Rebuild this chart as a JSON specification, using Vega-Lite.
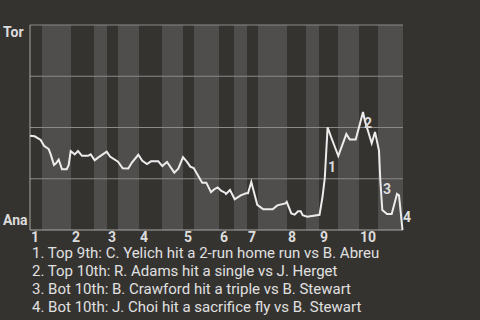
{
  "$schema": "https://vega.github.io/schema/vega-lite/v6.json",
  "width": 373,
  "height": 205,
  "autosize": {"type": "none"},
  "padding": {"left": 30, "top": 25, "right": 77, "bottom": 90},
  "background": "#353330",
  "config": {"view": {"stroke": null}, "font": "Roboto"},
  "title": {
    "text": [
      "1. Top 9th: C. Yelich hit a 2-run home run vs B. Abreu",
      "2. Top 10th: R. Adams hit a single vs J. Herget",
      "3. Bot 10th: B. Crawford hit a triple vs B. Stewart",
      "4. Bot 10th: J. Choi hit a sacrifice fly vs B. Stewart"
    ],
    "orient": "bottom",
    "anchor": "start",
    "frame": "group",
    "font": "Roboto",
    "fontSize": 15,
    "fontWeight": "normal",
    "color": "#e0e0e0",
    "lineHeight": 18,
    "baseline": "top",
    "offset": 1,
    "dx": 2
  },
  "datasets": {
    "bands": [
      {"s": 12, "e": 41}, {"s": 64, "e": 77}, {"s": 88, "e": 109}, {"s": 132, "e": 153},
      {"s": 164, "e": 189}, {"s": 204, "e": 217}, {"s": 228, "e": 257}, {"s": 276, "e": 289},
      {"s": 308, "e": 329}, {"s": 348, "e": 373}
    ],
    "grid": [{"g": 0.25}, {"g": 0.5}, {"g": 0.75}, {"g": 1}],
    "innings": [
      {"inning": "1", "start": 0}, {"inning": "2", "start": 41}, {"inning": "3", "start": 77},
      {"inning": "4", "start": 109}, {"inning": "5", "start": 153}, {"inning": "6", "start": 189},
      {"inning": "7", "start": 217}, {"inning": "8", "start": 257}, {"inning": "9", "start": 289},
      {"inning": "10", "start": 329}
    ],
    "wp": [
      {"play": 0, "p": 0.46}, {"play": 4.7, "p": 0.457}, {"play": 10.7, "p": 0.439},
      {"play": 14, "p": 0.411}, {"play": 18.7, "p": 0.395}, {"play": 20.7, "p": 0.369},
      {"play": 24, "p": 0.317}, {"play": 26, "p": 0.325}, {"play": 28.7, "p": 0.343},
      {"play": 32, "p": 0.296}, {"play": 36.7, "p": 0.296}, {"play": 38.7, "p": 0.317},
      {"play": 40.7, "p": 0.385}, {"play": 44.7, "p": 0.369}, {"play": 48, "p": 0.385},
      {"play": 52, "p": 0.362}, {"play": 58, "p": 0.362}, {"play": 60.7, "p": 0.369},
      {"play": 64.7, "p": 0.34}, {"play": 68, "p": 0.353}, {"play": 76.7, "p": 0.382},
      {"play": 80, "p": 0.358}, {"play": 88, "p": 0.333}, {"play": 92.7, "p": 0.301},
      {"play": 98.3, "p": 0.3}, {"play": 101.7, "p": 0.328}, {"play": 108.3, "p": 0.367},
      {"play": 112.3, "p": 0.338}, {"play": 117, "p": 0.322}, {"play": 121, "p": 0.335},
      {"play": 128.3, "p": 0.335}, {"play": 132.3, "p": 0.312}, {"play": 137, "p": 0.332},
      {"play": 144.3, "p": 0.28}, {"play": 148.3, "p": 0.299}, {"play": 153, "p": 0.355},
      {"play": 157, "p": 0.332}, {"play": 160.3, "p": 0.309}, {"play": 163.7, "p": 0.302},
      {"play": 171, "p": 0.24}, {"play": 172.3, "p": 0.231}, {"play": 176.3, "p": 0.231},
      {"play": 181, "p": 0.185}, {"play": 184.3, "p": 0.199}, {"play": 187.7, "p": 0.208},
      {"play": 191, "p": 0.192}, {"play": 195, "p": 0.182}, {"play": 196, "p": 0.176},
      {"play": 200, "p": 0.195}, {"play": 204.7, "p": 0.15}, {"play": 210.7, "p": 0.169},
      {"play": 216, "p": 0.179}, {"play": 218, "p": 0.179}, {"play": 221.3, "p": 0.234},
      {"play": 227.3, "p": 0.123}, {"play": 233.3, "p": 0.101}, {"play": 242.7, "p": 0.101},
      {"play": 247.3, "p": 0.12}, {"play": 255.3, "p": 0.13}, {"play": 256.7, "p": 0.137},
      {"play": 261.3, "p": 0.081}, {"play": 264.7, "p": 0.075}, {"play": 268, "p": 0.091},
      {"play": 270.7, "p": 0.091}, {"play": 272.7, "p": 0.072}, {"play": 277.3, "p": 0.065},
      {"play": 289.5, "p": 0.074}, {"play": 292.5, "p": 0.161}, {"play": 294.8, "p": 0.254},
      {"play": 297.6, "p": 0.501}, {"play": 301, "p": 0.455}, {"play": 308.3, "p": 0.361},
      {"play": 316.3, "p": 0.468}, {"play": 319.7, "p": 0.442}, {"play": 325.7, "p": 0.442},
      {"play": 329.7, "p": 0.514}, {"play": 333, "p": 0.576}, {"play": 335, "p": 0.53},
      {"play": 338.3, "p": 0.478}, {"play": 341.7, "p": 0.423}, {"play": 345, "p": 0.478},
      {"play": 349, "p": 0.387}, {"play": 350.3, "p": 0.244}, {"play": 352.3, "p": 0.098},
      {"play": 357, "p": 0.078}, {"play": 361.7, "p": 0.078}, {"play": 367, "p": 0.176},
      {"play": 369, "p": 0.169}, {"play": 372.5, "p": 0.0}
    ],
    "events": [
      {"n": "1", "play": 298, "p": 0.302},
      {"n": "2", "play": 334, "p": 0.517},
      {"n": "3", "play": 353, "p": 0.195},
      {"n": "4", "play": 373, "p": 0.059}
    ]
  },
  "layer": [
    {
      "data": {"name": "bands"},
      "mark": {"type": "rect", "color": "#4f4e4c"},
      "encoding": {
        "x": {"field": "s", "type": "quantitative", "scale": {"domain": [0, 373], "nice": false, "zero": false}, "axis": null},
        "x2": {"field": "e"},
        "y": {"datum": 0, "type": "quantitative", "scale": {"domain": [0, 1], "nice": false}, "axis": null},
        "y2": {"datum": 1}
      }
    },
    {
      "data": {"name": "grid"},
      "mark": {"type": "rule", "color": "#8a8a88", "strokeWidth": 1},
      "encoding": {"y": {"field": "g", "type": "quantitative"}}
    },
    {
      "data": {"values": [{"a": 0}]},
      "mark": {"type": "rule", "color": "#a8a8a6", "strokeWidth": 1},
      "encoding": {"y": {"datum": 0, "type": "quantitative"}}
    },
    {
      "data": {"values": [{"a": 0}]},
      "mark": {"type": "rule", "color": "#a8a8a6", "strokeWidth": 1},
      "encoding": {"x": {"datum": 0, "type": "quantitative"}, "y": {"datum": 0, "type": "quantitative"}, "y2": {"datum": 1}}
    },
    {
      "data": {"name": "wp"},
      "mark": {"type": "line", "color": "#ececec", "strokeWidth": 2, "strokeJoin": "miter"},
      "encoding": {
        "x": {"field": "play", "type": "quantitative"},
        "y": {"field": "p", "type": "quantitative"}
      }
    },
    {
      "data": {"name": "events"},
      "mark": {"type": "text", "align": "left", "baseline": "middle", "fontSize": 14, "fontWeight": "bold", "color": "#dcdcdc", "font": "Roboto"},
      "encoding": {
        "x": {"field": "play", "type": "quantitative"},
        "y": {"field": "p", "type": "quantitative"},
        "text": {"field": "n"}
      }
    },
    {
      "data": {"name": "innings"},
      "mark": {"type": "text", "align": "left", "baseline": "alphabetic", "dx": 1, "dy": 12, "fontSize": 14, "fontWeight": "bold", "color": "#dcdcdc", "font": "Roboto"},
      "encoding": {
        "x": {"field": "start", "type": "quantitative"},
        "y": {"datum": 0, "type": "quantitative"},
        "text": {"field": "inning"}
      }
    },
    {
      "data": {"values": [{"team": "Tor"}]},
      "mark": {"type": "text", "align": "left", "baseline": "alphabetic", "dx": -27, "dy": 11.5, "fontSize": 14, "fontWeight": "bold", "color": "#dcdcdc", "font": "Roboto"},
      "encoding": {
        "x": {"datum": 0, "type": "quantitative"},
        "y": {"datum": 1, "type": "quantitative"},
        "text": {"field": "team"}
      }
    },
    {
      "data": {"values": [{"team": "Ana"}]},
      "mark": {"type": "text", "align": "left", "baseline": "alphabetic", "dx": -27, "dy": -5, "fontSize": 14, "fontWeight": "bold", "color": "#dcdcdc", "font": "Roboto"},
      "encoding": {
        "x": {"datum": 0, "type": "quantitative"},
        "y": {"datum": 0, "type": "quantitative"},
        "text": {"field": "team"}
      }
    }
  ]
}
